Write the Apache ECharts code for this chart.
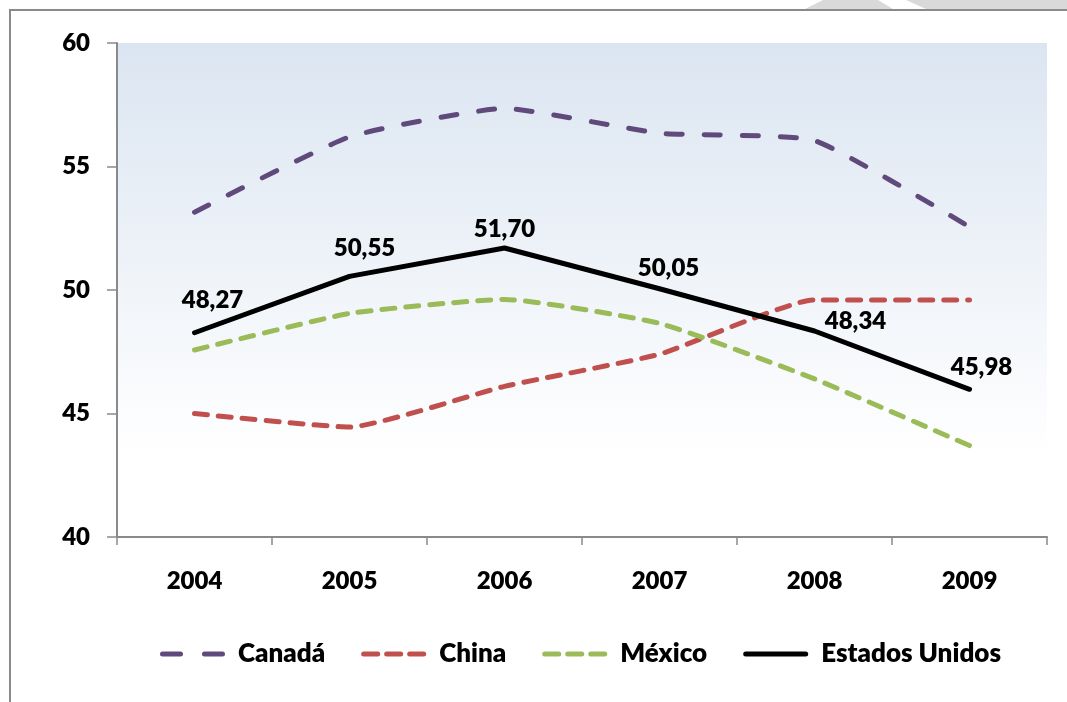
<!DOCTYPE html>
<html>
<head>
<meta charset="utf-8">
<title>Chart</title>
<script src="https://cdn.jsdelivr.net/npm/echarts@6/dist/echarts.min.js"></script>
<style>
  html, body { margin: 0; padding: 0; background: #fff; }
  #main { width: 1067px; height: 702px; }
</style>
</head>
<body>
<div id="main"></div>
<script>
// datos del gráfico
var years = ["2004", "2005", "2006", "2007", "2008", "2009"];
var canada = [53.15, 56.2, 57.35, 56.35, 56.05, 52.55];
var china = [45.0, 44.45, 46.1, 47.4, 49.6, 49.6];
var mexico = [47.57, 49.05, 49.62, 48.65, 46.4, 43.7];
var estadosUnidos = [48.27, 50.55, 51.70, 50.05, 48.34, 45.98];
var yTicks = [40, 45, 50, 55, 60];

// desplazamiento de las etiquetas de EE.UU.
var labelOffsets = [[18, -14], [15, -10], [0, 0], [9, -2], [41, 9], [12, -4]];

// iconos de la leyenda (trazos)
var iconLargo = "path://M2.5,0H20.5A2.5,2.5,0,0,1,20.5,5H2.5A2.5,2.5,0,0,1,2.5,0Z M44.5,0H62.5A2.5,2.5,0,0,1,62.5,5H44.5A2.5,2.5,0,0,1,44.5,0Z";
var iconCorto = "path://M2.5,0H16.5A2.5,2.5,0,0,1,16.5,5H2.5A2.5,2.5,0,0,1,2.5,0Z M25.5,0H39.5A2.5,2.5,0,0,1,39.5,5H25.5A2.5,2.5,0,0,1,25.5,0Z M48.5,0H62.5A2.5,2.5,0,0,1,62.5,5H48.5A2.5,2.5,0,0,1,48.5,0Z";
var iconSolido = "path://M2.5,0H62.5A2.5,2.5,0,0,1,62.5,5H2.5A2.5,2.5,0,0,1,2.5,0Z";

var fontName = "Lato";
var peso = 800;
var chart = echarts.init(document.getElementById("main"));

var etiqueta = {
    show: true, position: "top", distance: 6,
    fontSize: 24, fontWeight: peso, color: "#000", fontFamily: fontName,
    formatter: function (p) { return p.value.toFixed(2).replace(".", ","); }
};

var usData = estadosUnidos.map(function (v, i) {
    return { value: v, label: Object.assign({}, etiqueta, { offset: labelOffsets[i] }) };
});

var option = {
    animation: false,
    textStyle: { fontFamily: fontName },
    graphic: [
        // marco del gráfico
        { type: "polyline", shape: { points: [[10, 702], [10, 10], [1067, 10]] },
          style: { stroke: "#8a8a8a", lineWidth: 2, fill: null } },
        // marca de agua arriba a la derecha
        { type: "polygon", shape: { points: [[805, 9], [823, 0], [878, 0], [893, 9]] },
          style: { fill: "#d9d9d9" } },
        { type: "polygon", shape: { points: [[926, 9], [906, 0], [1067, 0], [1067, 9]] },
          style: { fill: "#d9d9d9" } }
    ],
    grid: {
        left: 117, right: 20, top: 43, bottom: 165,
        show: true,
        borderWidth: 0,
        backgroundColor: {
            type: "linear", x: 0, y: 0, x2: 0, y2: 1,
            colorStops: [
                { offset: 0, color: "#dbe5f1" },
                { offset: 0.84, color: "#ffffff" },
                { offset: 1, color: "#ffffff" }
            ]
        }
    },
    legend: {
        left: 155, top: 636,
        itemWidth: 65, itemHeight: 5, itemGap: 36,
        textStyle: { fontSize: 26, fontWeight: peso, color: "#000", fontFamily: fontName, padding: [0, 0, 0, 8] },
        data: [
            { name: "Canadá", icon: iconLargo },
            { name: "China", icon: iconCorto },
            { name: "México", icon: iconCorto },
            { name: "Estados Unidos", icon: iconSolido }
        ]
    },
    xAxis: {
        type: "category",
        data: years,
        boundaryGap: true,
        axisLine: { lineStyle: { color: "#8a8a8a", width: 2 } },
        axisTick: { show: true, length: 8, inside: false, alignWithLabel: false, lineStyle: { color: "#8a8a8a", width: 1.5 } },
        axisLabel: { margin: 32, fontSize: 24, fontWeight: peso, color: "#000", fontFamily: fontName }
    },
    yAxis: {
        type: "value",
        min: yTicks[0], max: yTicks[yTicks.length - 1], interval: 5,
        axisLine: { show: true, lineStyle: { color: "#8a8a8a", width: 2 } },
        axisTick: { show: true, length: 10, lineStyle: { color: "#8a8a8a", width: 1.5 } },
        splitLine: { show: false },
        axisLabel: { margin: 27, fontSize: 24, fontWeight: peso, color: "#000", fontFamily: fontName }
    },
    series: [
        {
            name: "Canadá", type: "line", data: canada,
            symbol: "none", smooth: 0.15,
            lineStyle: { color: "#604a7b", width: 5, type: [16, 22], cap: "round" },
            itemStyle: { color: "#604a7b" }
        },
        {
            name: "China", type: "line", data: china,
            symbol: "none", smooth: 0.15,
            lineStyle: { color: "#c0504d", width: 5, type: [13, 11], cap: "round" },
            itemStyle: { color: "#c0504d" }
        },
        {
            name: "México", type: "line", data: mexico,
            symbol: "none", smooth: 0.15,
            lineStyle: { color: "#9bbb59", width: 5, type: [13, 11], cap: "round" },
            itemStyle: { color: "#9bbb59" }
        },
        {
            name: "Estados Unidos", type: "line", data: usData,
            symbol: "circle", symbolSize: 1, showSymbol: true,
            lineStyle: { color: "#000000", width: 5, cap: "round", join: "round" },
            itemStyle: { color: "#000000" },
            label: etiqueta
        }
    ]
};

chart.setOption(option);
</script>
</body>
</html>
